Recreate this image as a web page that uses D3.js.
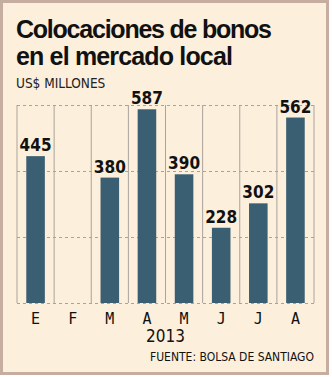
<!DOCTYPE html>
<html><head><meta charset="utf-8">
<script src="https://cdn.jsdelivr.net/npm/d3@7"></script>
<style>html,body{margin:0;padding:0;background:#fff;}</style>
</head><body>
<svg id="c" width="332" height="377"></svg>
<script>
const months = ["E","F","M","A","M","J","J","A"];
const values = [445, null, 380, 587, 390, 228, 302, 562];
const yTicks = [0, 200, 400, 600];
const title = ["Colocaciones de bonos", "en el mercado local"];
const unit = "US$ MILLONES";
const year = "2013";
const source = "FUENTE: BOLSA DE SANTIAGO";

const svg = d3.select("#c");
const narrow = "'Liberation Sans Narrow','DejaVu Sans Condensed','Arial Narrow',sans-serif";
svg.append("rect").attr("x",1.5).attr("y",1.5).attr("width",326).attr("height",372)
  .attr("fill","#fcefdc").attr("stroke","#c5ad9f").attr("stroke-width",3);

function fit(sel, w){
  const n = sel.text().length;
  const len = sel.node().getComputedTextLength();
  sel.attr("letter-spacing", ((w-len)/(n-1)).toFixed(2));
}
const t = svg.append("g").attr("font-family","'Liberation Sans',Arial,sans-serif").attr("font-weight","bold").attr("fill","#111");
fit(t.append("text").attr("x",16).attr("y",37.5).attr("font-size",25).text(title[0]), 256);
fit(t.append("text").attr("x",16).attr("y",65).attr("font-size",25).text(title[1]), 217);
svg.append("text").attr("x",16).attr("y",88).attr("font-family",narrow).attr("font-size",13.5).attr("fill","#222").text(unit);

const x = d3.scaleBand().domain(d3.range(months.length)).range([17,314]).paddingInner(0).paddingOuter(0);
const y = d3.scaleLinear().domain([0,600]).range([303,105]);

svg.append("g").selectAll("line").data(d3.range(months.length+1)).join("line")
  .attr("x1",i=>i<months.length?x(i):x.range()[1]).attr("x2",i=>i<months.length?x(i):x.range()[1])
  .attr("y1",y(600)).attr("y2",y(0)).attr("stroke","#aaa39c").attr("stroke-width",1);
svg.append("g").selectAll("line").data(yTicks).join("line")
  .attr("x1",17).attr("x2",314).attr("y1",d=>Math.round(y(d))+0.5).attr("y2",d=>Math.round(y(d))+0.5)
  .attr("stroke","#a8a39e").attr("stroke-dasharray","3,3").attr("stroke-width",1);

const bw = x.bandwidth()*0.5;
const data = values.map((v,i)=>({v,i})).filter(d=>d.v!=null);
svg.append("g").selectAll("rect").data(data).join("rect")
  .attr("x",d=>x(d.i)+x.bandwidth()/2-bw/2).attr("width",bw)
  .attr("y",d=>y(d.v)).attr("height",d=>y(0)-y(d.v)).attr("fill","#3a5e72");
svg.append("g").selectAll("text").data(data).join("text")
  .attr("x",d=>x(d.i)+x.bandwidth()/2).attr("y",d=>y(d.v)-5)
  .attr("text-anchor","middle").attr("font-family",narrow).attr("font-weight","bold")
  .attr("font-size",17).attr("fill","#111").text(d=>d.v);

svg.append("g").selectAll("text").data(months).join("text")
  .attr("x",(d,i)=>x(i)+x.bandwidth()/2).attr("y",324)
  .attr("text-anchor","middle").attr("font-family","'DejaVu Sans Mono',monospace")
  .attr("font-size",15).attr("fill","#111").text(d=>d);
svg.append("text").attr("x",165.5).attr("y",342).attr("text-anchor","middle")
  .attr("font-family",narrow).attr("font-size",17).attr("fill","#111").text(year);
svg.append("text").attr("x",314).attr("y",361).attr("text-anchor","end")
  .attr("font-family",narrow).attr("font-size",12).attr("fill","#111").text(source);
</script>
</body></html>
